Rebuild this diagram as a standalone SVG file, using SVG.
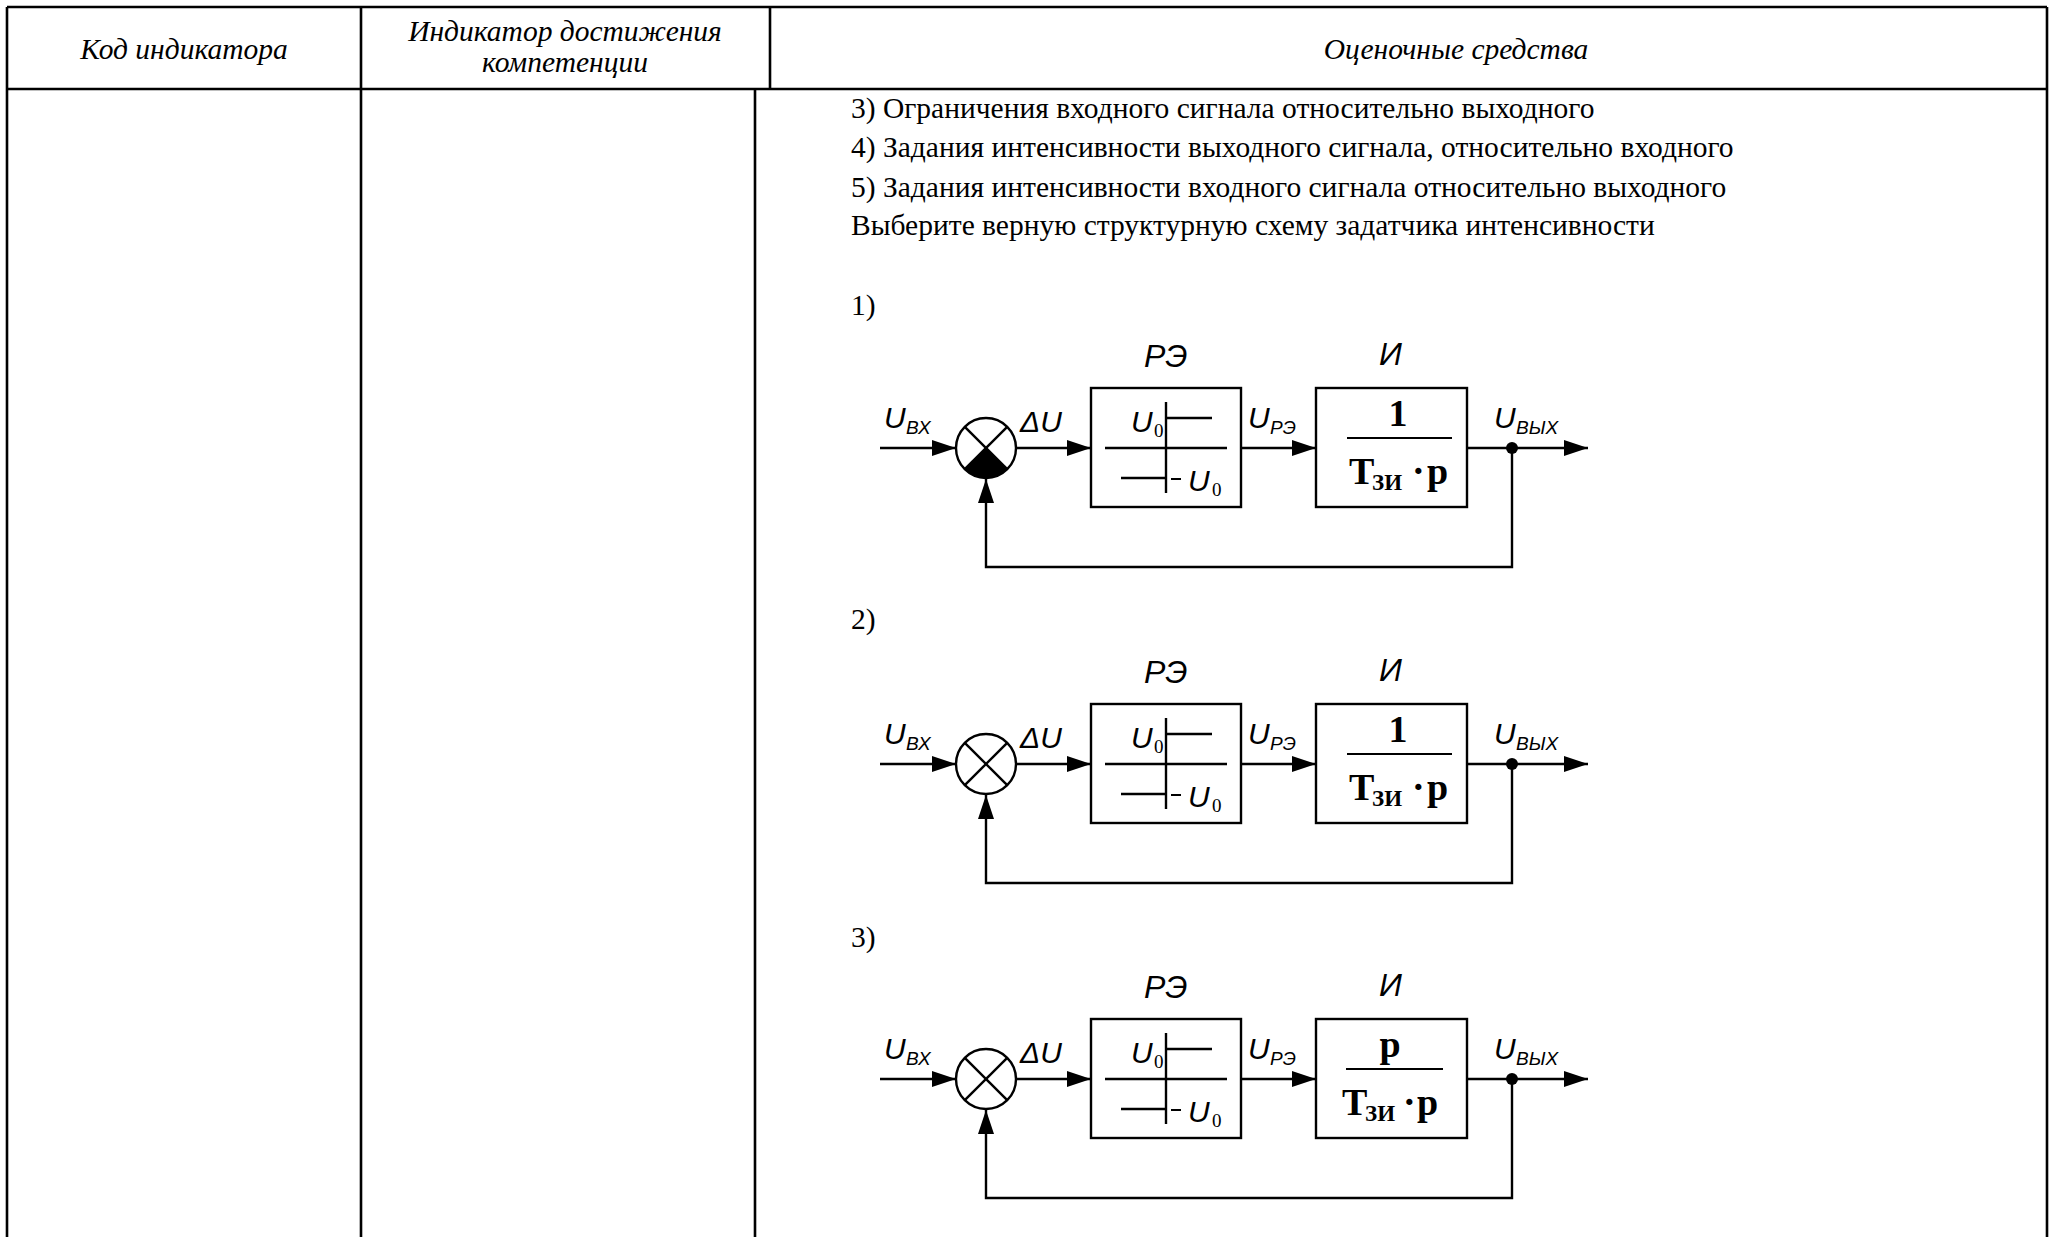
<svg xmlns="http://www.w3.org/2000/svg" width="2056" height="1237" viewBox="0 0 2056 1237">
<style>
.tb{stroke:#000;stroke-width:2.6;fill:none}
.ln{stroke:#000;stroke-width:2.4;fill:none}
.thin{stroke:#000;stroke-width:2;fill:none}
.hd{font-family:"Liberation Serif",serif;font-style:italic;font-size:29.5px;fill:#000}
.bt{font-family:"Liberation Serif",serif;font-size:29.5px;fill:#000}
.lb{font-family:"Liberation Sans",Arial,sans-serif;font-style:italic;font-size:30px;fill:#000}
.tl{font-family:"Liberation Sans",Arial,sans-serif;font-style:italic;font-size:32px;fill:#000}
.sb{font-family:"Liberation Sans",Arial,sans-serif;font-style:italic;font-size:19px;fill:#000}
.z{font-family:"Liberation Serif",serif;font-size:19px;fill:#000}
.fr{font-family:"Liberation Serif",serif;font-weight:bold;font-size:38px;fill:#000}
.frs{font-family:"Liberation Serif",serif;font-weight:bold;font-size:23px;fill:#000}
</style>
<defs>
<marker id="arr" markerUnits="userSpaceOnUse" markerWidth="26" markerHeight="18" refX="25" refY="9" orient="auto">
<path d="M1,1 L25,9 L1,17 Z" fill="#000"/>
</marker>
</defs>
<rect width="2056" height="1237" fill="#fff"/>
<g id="table">
<line class="tb" x1="7" y1="7" x2="2047" y2="7"/>
<line class="tb" x1="7" y1="89" x2="2047" y2="89"/>
<line class="tb" x1="7" y1="7" x2="7" y2="1237"/>
<line class="tb" x1="2047" y1="7" x2="2047" y2="1237"/>
<line class="tb" x1="361" y1="7" x2="361" y2="1237"/>
<line class="tb" x1="770" y1="7" x2="770" y2="89"/>
<line class="tb" x1="755" y1="89" x2="755" y2="1237"/>
<text class="hd" x="184" y="59" text-anchor="middle">Код индикатора</text>
<text class="hd" x="565" y="41" text-anchor="middle">Индикатор достижения</text>
<text class="hd" x="565" y="72" text-anchor="middle">компетенции</text>
<text class="hd" x="1456" y="59" text-anchor="middle">Оценочные средства</text>
</g>
<g id="question">
<text class="bt" x="851" y="118">3) Ограничения входного сигнала относительно выходного</text>
<text class="bt" x="851" y="157">4) Задания интенсивности выходного сигнала, относительно входного</text>
<text class="bt" x="851" y="197">5) Задания интенсивности входного сигнала относительно выходного</text>
<text class="bt" x="851" y="235">Выберите верную структурную схему задатчика интенсивности</text>
<text class="bt" x="851" y="315">1)</text>
<text class="bt" x="851" y="629">2)</text>
<text class="bt" x="851" y="947">3)</text>
</g>

<g id="diagram1">
<g id="d1-connectors">
<line class="ln" x1="880" y1="448" x2="956" y2="448" marker-end="url(#arr)"/>
<line class="ln" x1="1016" y1="448" x2="1091" y2="448" marker-end="url(#arr)"/>
<line class="ln" x1="1241" y1="448" x2="1316" y2="448" marker-end="url(#arr)"/>
<line class="ln" x1="1467" y1="448" x2="1588" y2="448" marker-end="url(#arr)"/>
<polyline class="ln" points="1512,448 1512,567 986,567 986,479" marker-end="url(#arr)"/>
<circle cx="1512" cy="448" r="6" fill="#000"/>
</g>
<g id="d1-sum">
<path d="M986,448 L1007.2,469.2 A30,30 0 0 1 964.8,469.2 Z" fill="#000"/>
<circle class="ln" cx="986" cy="448" r="30"/>
<line class="ln" x1="964.8" y1="426.8" x2="1007.2" y2="469.2"/>
<line class="ln" x1="1007.2" y1="426.8" x2="964.8" y2="469.2"/>
</g>
<g id="d1-re">
<rect class="ln" x="1091" y="388" width="150" height="119"/>
<line class="ln" x1="1105" y1="448" x2="1227" y2="448"/>
<line class="ln" x1="1166" y1="402" x2="1166" y2="493"/>
<line class="ln" x1="1166" y1="418" x2="1212" y2="418"/>
<line class="ln" x1="1121" y1="478" x2="1166" y2="478"/>
<line class="thin" x1="1171" y1="479" x2="1181" y2="479"/>
<text class="lb" x="1131" y="432">U</text><text class="z" x="1154" y="437">0</text>
<text class="lb" x="1188" y="491">U</text><text class="z" x="1212" y="496">0</text>
</g>
<g id="d1-int">
<rect class="ln" x="1316" y="388" width="151" height="119"/>
<line class="thin" x1="1347" y1="438" x2="1452" y2="438"/>
<text class="fr" x="1398" y="426" text-anchor="middle">1</text>
<text class="fr" x="1349" y="484">T</text><text class="frs" x="1372" y="490">ЗИ</text>
<text class="fr" x="1412" y="484">·</text><text class="fr" x="1427" y="484">p</text>
</g>
<g id="d1-labels">
<text class="lb" x="884" y="428">U</text><text class="sb" x="906" y="434">ВХ</text>
<text class="lb" x="1020" y="432">ΔU</text>
<text class="lb" x="1248" y="428">U</text><text class="sb" x="1270" y="434">РЭ</text>
<text class="lb" x="1494" y="428">U</text><text class="sb" x="1516" y="434">ВЫХ</text>
<text class="tl" x="1144" y="367">РЭ</text>
<text class="tl" x="1379" y="365">И</text>
</g>
</g>

<g id="diagram2" transform="translate(0,316)">
<g id="d2-connectors">
<line class="ln" x1="880" y1="448" x2="956" y2="448" marker-end="url(#arr)"/>
<line class="ln" x1="1016" y1="448" x2="1091" y2="448" marker-end="url(#arr)"/>
<line class="ln" x1="1241" y1="448" x2="1316" y2="448" marker-end="url(#arr)"/>
<line class="ln" x1="1467" y1="448" x2="1588" y2="448" marker-end="url(#arr)"/>
<polyline class="ln" points="1512,448 1512,567 986,567 986,479" marker-end="url(#arr)"/>
<circle cx="1512" cy="448" r="6" fill="#000"/>
</g>
<g id="d2-sum">
<circle class="ln" cx="986" cy="448" r="30"/>
<line class="ln" x1="964.8" y1="426.8" x2="1007.2" y2="469.2"/>
<line class="ln" x1="1007.2" y1="426.8" x2="964.8" y2="469.2"/>
</g>
<g id="d2-re">
<rect class="ln" x="1091" y="388" width="150" height="119"/>
<line class="ln" x1="1105" y1="448" x2="1227" y2="448"/>
<line class="ln" x1="1166" y1="402" x2="1166" y2="493"/>
<line class="ln" x1="1166" y1="418" x2="1212" y2="418"/>
<line class="ln" x1="1121" y1="478" x2="1166" y2="478"/>
<line class="thin" x1="1171" y1="479" x2="1181" y2="479"/>
<text class="lb" x="1131" y="432">U</text><text class="z" x="1154" y="437">0</text>
<text class="lb" x="1188" y="491">U</text><text class="z" x="1212" y="496">0</text>
</g>
<g id="d2-int">
<rect class="ln" x="1316" y="388" width="151" height="119"/>
<line class="thin" x1="1347" y1="438" x2="1452" y2="438"/>
<text class="fr" x="1398" y="426" text-anchor="middle">1</text>
<text class="fr" x="1349" y="484">T</text><text class="frs" x="1372" y="490">ЗИ</text>
<text class="fr" x="1412" y="484">·</text><text class="fr" x="1427" y="484">p</text>
</g>
<g id="d2-labels">
<text class="lb" x="884" y="428">U</text><text class="sb" x="906" y="434">ВХ</text>
<text class="lb" x="1020" y="432">ΔU</text>
<text class="lb" x="1248" y="428">U</text><text class="sb" x="1270" y="434">РЭ</text>
<text class="lb" x="1494" y="428">U</text><text class="sb" x="1516" y="434">ВЫХ</text>
<text class="tl" x="1144" y="367">РЭ</text>
<text class="tl" x="1379" y="365">И</text>
</g>
</g>

<g id="diagram3" transform="translate(0,631)">
<g id="d3-connectors">
<line class="ln" x1="880" y1="448" x2="956" y2="448" marker-end="url(#arr)"/>
<line class="ln" x1="1016" y1="448" x2="1091" y2="448" marker-end="url(#arr)"/>
<line class="ln" x1="1241" y1="448" x2="1316" y2="448" marker-end="url(#arr)"/>
<line class="ln" x1="1467" y1="448" x2="1588" y2="448" marker-end="url(#arr)"/>
<polyline class="ln" points="1512,448 1512,567 986,567 986,479" marker-end="url(#arr)"/>
<circle cx="1512" cy="448" r="6" fill="#000"/>
</g>
<g id="d3-sum">
<circle class="ln" cx="986" cy="448" r="30"/>
<line class="ln" x1="964.8" y1="426.8" x2="1007.2" y2="469.2"/>
<line class="ln" x1="1007.2" y1="426.8" x2="964.8" y2="469.2"/>
</g>
<g id="d3-re">
<rect class="ln" x="1091" y="388" width="150" height="119"/>
<line class="ln" x1="1105" y1="448" x2="1227" y2="448"/>
<line class="ln" x1="1166" y1="402" x2="1166" y2="493"/>
<line class="ln" x1="1166" y1="418" x2="1212" y2="418"/>
<line class="ln" x1="1121" y1="478" x2="1166" y2="478"/>
<line class="thin" x1="1171" y1="479" x2="1181" y2="479"/>
<text class="lb" x="1131" y="432">U</text><text class="z" x="1154" y="437">0</text>
<text class="lb" x="1188" y="491">U</text><text class="z" x="1212" y="496">0</text>
</g>
<g id="d3-int">
<rect class="ln" x="1316" y="388" width="151" height="119"/>
<line class="thin" x1="1346" y1="438" x2="1443" y2="438"/>
<text class="fr" x="1390" y="426" text-anchor="middle">p</text>
<text class="fr" x="1342" y="484">T</text><text class="frs" x="1365" y="490">ЗИ</text>
<text class="fr" x="1403" y="484">·</text><text class="fr" x="1417" y="484">p</text>
</g>
<g id="d3-labels">
<text class="lb" x="884" y="428">U</text><text class="sb" x="906" y="434">ВХ</text>
<text class="lb" x="1020" y="432">ΔU</text>
<text class="lb" x="1248" y="428">U</text><text class="sb" x="1270" y="434">РЭ</text>
<text class="lb" x="1494" y="428">U</text><text class="sb" x="1516" y="434">ВЫХ</text>
<text class="tl" x="1144" y="367">РЭ</text>
<text class="tl" x="1379" y="365">И</text>
</g>
</g>
</svg>
